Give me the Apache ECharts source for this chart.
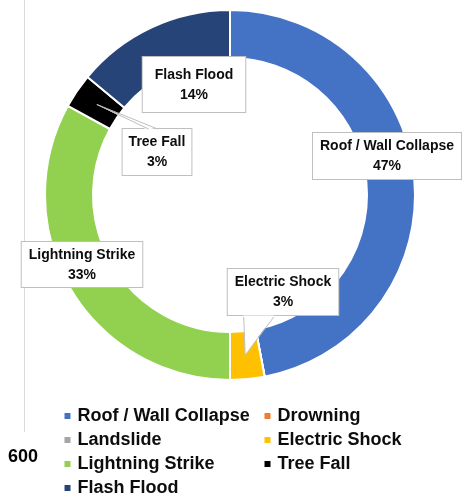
<!DOCTYPE html>
<html>
<head>
<meta charset="utf-8">
<script src="https://cdn.jsdelivr.net/npm/echarts@6/dist/echarts.min.js"></script>
<style>html,body{margin:0;padding:0;background:#fff;}#c{width:472px;height:496px;}</style>
</head>
<body>
<div id="c"></div>
<script>
// Data
const categories = ['Roof / Wall Collapse', 'Drowning', 'Landslide', 'Electric Shock', 'Lightning Strike', 'Tree Fall', 'Flash Flood'];
const values = [47, 0, 0, 3, 33, 3, 14];
const colors = ['#4472C4', '#ED7D31', '#A5A5A5', '#FFC000', '#92D050', '#000000', '#264478'];
const strayAxisLabel = '600';
// Legend columns (items in reading order, two per row)
const legendCol1 = [categories[0], categories[2], categories[4], categories[6]];
const legendCol2 = [categories[1], categories[3], categories[5]];

// Layout
const pieCenter = [230, 195];
const pieRadius = [137, 185];
const startAngleDeg = 90;
// Label box layout (top-centre of each callout box), keyed by category.
// pointer: [edge ('top'|'bottom'), base start offset, base end offset] measured from the box's left edge
const labelBoxes = {
  'Roof / Wall Collapse': {cx: 387, y: 133, pad: [3, 7, 3, 7]},
  'Electric Shock': {cx: 283, y: 269, pad: [3, 7, 3, 7], pointer: ['bottom', 17, 47]},
  'Lightning Strike': {cx: 82, y: 242, pad: [3, 7, 2, 7]},
  'Tree Fall': {cx: 157, y: 129, pad: [3, 6, 3, 6], pointer: ['top', 27, 36]},
  'Flash Flood': {cx: 194, y: 57, pad: [8, 12, 7, 12]}
};

const font = '"Liberation Sans", Arial, sans-serif';
const measured = {};

const seriesData = categories.map((name, i) => {
  const box = labelBoxes[name];
  return {
    name: name,
    value: values[i],
    itemStyle: {color: colors[i]},
    label: box ? {show: true, padding: box.pad} : {show: false},
    labelLine: {show: false}
  };
});

const legendBase = {
  top: 407,
  height: 100,
  padding: 0,
  orient: 'vertical',
  itemWidth: 10,
  itemHeight: 8,
  itemGap: 6,
  icon: 'path://M0,0h7v7h-7z',
  textStyle: {fontSize: 18, fontWeight: 'bold', fontFamily: font, color: '#0d0d0d'}
};

const baseGraphics = [
  {id: 'axisline', type: 'line', shape: {x1: 24.5, y1: 0, x2: 24.5, y2: 432}, style: {stroke: '#d9d9d9', lineWidth: 1}, z: -1},
  {id: 'axislabel', type: 'text', left: 8, top: 448, style: {text: strayAxisLabel, font: 'bold 18px ' + font, fill: '#000'}}
];

const chart = echarts.init(document.getElementById('c'), null, {renderer: 'canvas'});
chart.setOption({
  animation: false,
  backgroundColor: '#ffffff',
  color: colors,
  graphic: baseGraphics,
  legend: [
    Object.assign({left: 62.5, data: legendCol1}, legendBase),
    Object.assign({left: 262.5, data: legendCol2}, legendBase)
  ],
  series: [{
    type: 'pie',
    center: pieCenter,
    radius: pieRadius,
    startAngle: startAngleDeg,
    clockwise: true,
    avoidLabelOverlap: false,
    percentPrecision: 0,
    itemStyle: {borderColor: '#ffffff', borderWidth: 2},
    label: {
      position: 'outside',
      formatter: '{b}\n{d}%',
      fontSize: 14,
      fontWeight: 'bold',
      fontFamily: font,
      color: '#0d0d0d',
      lineHeight: 20,
      align: 'center',
      backgroundColor: '#ffffff',
      borderColor: '#bfbfbf',
      borderWidth: 1
    },
    labelLayout: function (params) {
      const name = categories[params.dataIndex];
      const box = labelBoxes[name];
      if (!box) return {};
      if (params.labelRect) {
        measured[name] = {w: params.labelRect.width, h: params.labelRect.height};
      }
      return {x: box.cx, y: box.y, align: 'center', verticalAlign: 'top'};
    },
    emphasis: {disabled: true},
    data: seriesData
  }]
});

// Callout pointers: tip at the middle of each slice's ring, computed from the data values
const total = values.reduce((a, b) => a + b, 0);
const midR = (pieRadius[0] + pieRadius[1]) / 2;
const pointerGraphics = [];
let cum = 0;
categories.forEach((name, i) => {
  const v = values[i];
  const box = labelBoxes[name];
  if (box && box.pointer) {
    const m = measured[name] || {w: 100, h: 46};
    const frac = (cum + v / 2) / total;
    const ang = frac * 2 * Math.PI; // clockwise from top
    const tip = [pieCenter[0] + midR * Math.sin(ang), pieCenter[1] - midR * Math.cos(ang)];
    const left = box.cx - m.w / 2;
    const isTop = box.pointer[0] === 'top';
    const edgeY0 = isTop ? box.y : box.y + m.h;
    const edgeY = isTop ? edgeY0 + 1.5 : edgeY0 - 1.5;
    const x1 = left + box.pointer[1];
    const x2 = left + box.pointer[2];
    pointerGraphics.push({
      id: 'pfill' + i, type: 'polygon', z: 10, silent: true,
      shape: {points: [[x1, edgeY], tip, [x2, edgeY]]},
      style: {fill: '#ffffff'}
    });
    pointerGraphics.push({
      id: 'pline' + i, type: 'polyline', z: 11, silent: true,
      shape: {points: [[x1, edgeY0], tip, [x2, edgeY0]]},
      style: {stroke: '#bfbfbf', lineWidth: 1, fill: null}
    });
  }
  cum += v;
});
chart.setOption({graphic: baseGraphics.concat(pointerGraphics)});
</script>
</body>
</html>
